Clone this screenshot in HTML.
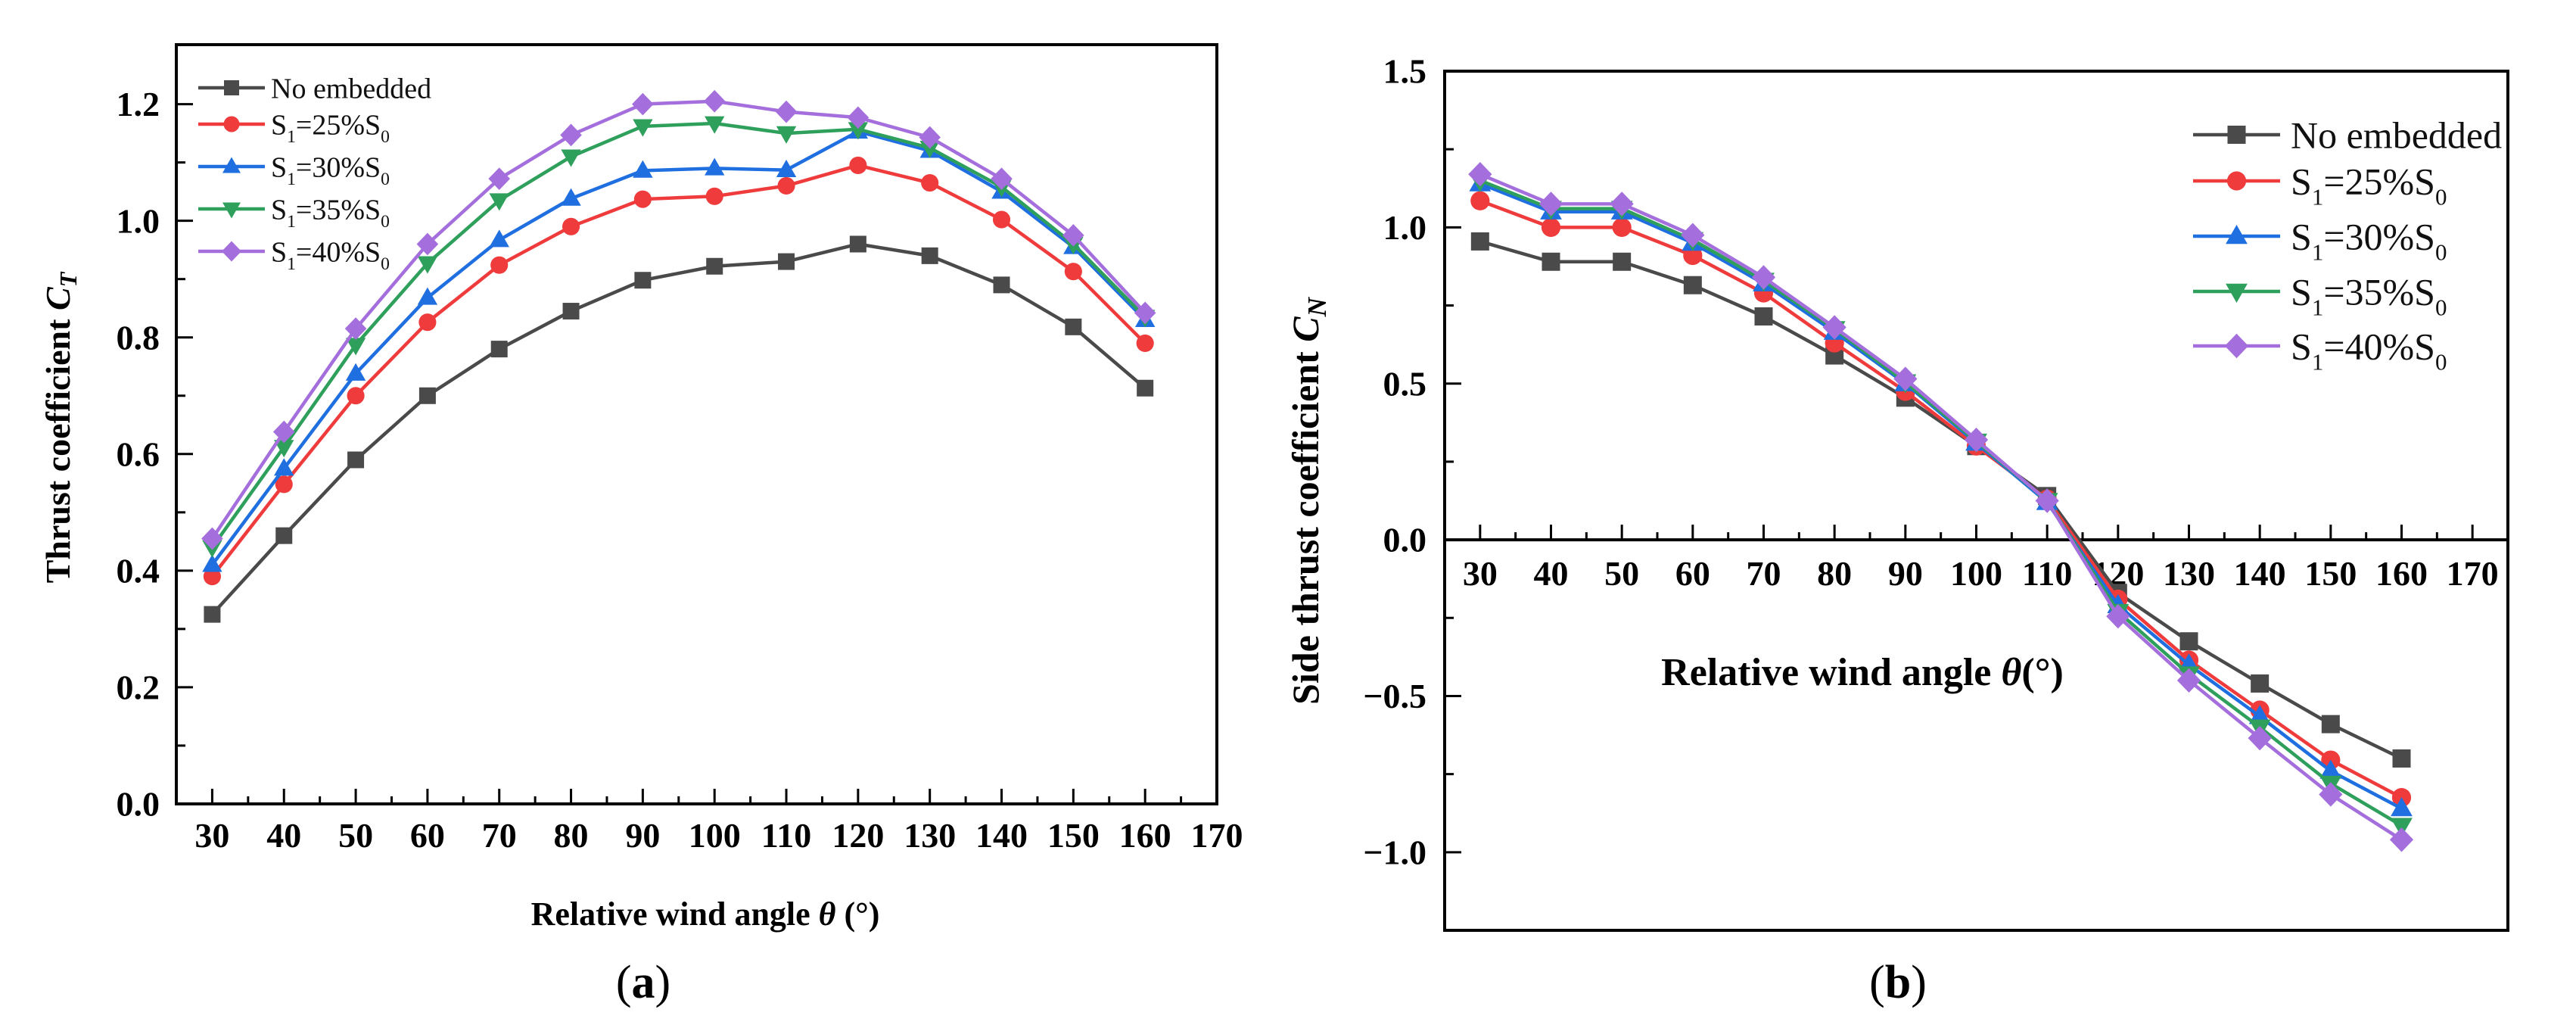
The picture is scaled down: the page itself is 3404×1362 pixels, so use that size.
<!DOCTYPE html>
<html><head><meta charset="utf-8"><style>
html,body{margin:0;padding:0;background:#fff;}
svg{display:block;}
text{font-family:"Liberation Serif","Times New Roman",serif;}
</style></head><body>
<svg id="fig" width="3404" height="1362" viewBox="0 0 3404 1362" xmlns="http://www.w3.org/2000/svg" font-family="Liberation Serif, serif">
<rect x="0" y="0" width="3404" height="1362" fill="#fff"/>
<g id="chartA"></g>
<g id="chartB"></g>
</svg>
<script>
const angles = [30,40,50,60,70,80,90,100,110,120,130,140,150,160];
const seriesNames = ["No embedded","S1=25%S0","S1=30%S0","S1=35%S0","S1=40%S0"];
const ctNone = [0.325,0.46,0.59,0.70,0.78,0.845,0.898,0.922,0.93,0.96,0.94,0.89,0.818,0.713];
const ct25 = [0.39,0.548,0.70,0.826,0.924,0.99,1.037,1.042,1.06,1.095,1.065,1.002,0.913,0.79];
const ct30 = [0.41,0.575,0.738,0.868,0.967,1.038,1.086,1.09,1.087,1.153,1.12,1.05,0.955,0.83];
const ct35 = [0.44,0.612,0.787,0.927,1.035,1.11,1.162,1.167,1.15,1.157,1.125,1.058,0.96,0.835];
const ct40 = [0.455,0.638,0.815,0.96,1.072,1.147,1.2,1.205,1.187,1.177,1.143,1.072,0.975,0.842];
const cnNone = [0.955,0.89,0.89,0.815,0.715,0.59,0.455,0.30,0.14,-0.17,-0.325,-0.46,-0.59,-0.70];
const cn25 = [1.085,1.0,1.0,0.91,0.79,0.63,0.475,0.30,0.13,-0.19,-0.385,-0.545,-0.705,-0.825];
const cn30 = [1.14,1.05,1.05,0.95,0.82,0.665,0.50,0.31,0.12,-0.21,-0.40,-0.565,-0.74,-0.86];
const cn35 = [1.15,1.06,1.06,0.96,0.83,0.675,0.505,0.315,0.125,-0.23,-0.43,-0.60,-0.78,-0.915];
const cn40 = [1.17,1.075,1.075,0.975,0.84,0.68,0.515,0.32,0.125,-0.245,-0.45,-0.635,-0.815,-0.96];
const xTicks = [30,40,50,60,70,80,90,100,110,120,130,140,150,160,170];
const ctTicks = [0.0,0.2,0.4,0.6,0.8,1.0,1.2];
const cnTicks = [-1.0,-0.5,0.0,0.5,1.0,1.5];

const NS="http://www.w3.org/2000/svg";
const colors=["#4a4a4a","#ef3b3b","#1f6fe0","#2f9f5c","#a46fdc"];
const markers=["square","circle","triangle","triangle-down","diamond"];

function mk(parent,tag,attrs,txt){
  const e=document.createElementNS(NS,tag);
  for(const k in attrs) e.setAttribute(k,attrs[k]);
  if(txt!==undefined) e.textContent=txt;
  parent.appendChild(e);
  return e;
}
function marker(g,type,x,y,c,s){
  let e;
  if(type==="square") e=mk(g,"rect",{x:x-s,y:y-s,width:2*s,height:2*s,fill:c});
  else if(type==="circle") e=mk(g,"circle",{cx:x,cy:y,r:s*1.05,fill:c});
  else if(type==="triangle") e=mk(g,"polygon",{points:`${x},${y-s*1.25} ${x-s*1.2},${y+s*0.85} ${x+s*1.2},${y+s*0.85}`,fill:c});
  else if(type==="triangle-down") e=mk(g,"polygon",{points:`${x},${y+s*1.25} ${x-s*1.2},${y-s*0.85} ${x+s*1.2},${y-s*0.85}`,fill:c});
  else e=mk(g,"polygon",{points:`${x},${y-s*1.35} ${x+s*1.3},${y} ${x},${y+s*1.35} ${x-s*1.3},${y}`,fill:c});
  return e;
}
function legendLabel(g,x,y,name,fs){
  const t=mk(g,"text",{x:x,y:y+fs*0.35,"font-size":fs,fill:"#111","font-family":"Liberation Serif, serif"});
  if(name.startsWith("S1")){
    const pct=name.slice(3,6);
    mk(t,"tspan",{},"S");
    mk(t,"tspan",{dy:fs*0.28,"font-size":fs*0.62},"1");
    mk(t,"tspan",{dy:-fs*0.28},"="+pct+"S");
    mk(t,"tspan",{dy:fs*0.28,"font-size":fs*0.62},"0");
  } else t.textContent=name;
  return t;
}

function drawChart(cfg){
  const g=document.getElementById(cfg.id);
  const X=v=>cfg.x0+(v-cfg.xmin)/(cfg.xmax-cfg.xmin)*(cfg.x1-cfg.x0);
  const Y=v=>cfg.y1-(v-cfg.ymin)/(cfg.ymax-cfg.ymin)*(cfg.y1-cfg.y0);
  const frame=mk(g,"rect",{x:cfg.x0,y:cfg.y0,width:cfg.x1-cfg.x0,height:cfg.y1-cfg.y0,fill:"none",stroke:"#000","stroke-width":4});
  
  
  const axY=Y(cfg.xAxisAt);
  if(cfg.xAxisAt!==cfg.ymin){
    const ax=mk(g,"line",{x1:cfg.x0,y1:axY,x2:cfg.x1,y2:axY,stroke:"#000","stroke-width":4});
    
    
  }
  for(let v=cfg.xmin+5;v<=cfg.xmax;v+=5){
    const major=v%10===0;
    mk(g,"line",{x1:X(v),y1:axY,x2:X(v),y2:axY-(major?20:10),stroke:"#000","stroke-width":3});
  }
  xTicks.forEach(v=>{
    const t=mk(g,"text",{x:X(v),y:cfg.xLabelY,"font-size":cfg.tickFs,"font-weight":"bold","text-anchor":"middle",fill:"#000","font-family":"Liberation Serif, serif"},String(v));
    
    
  });
  for(let v=cfg.ymin;v<=cfg.ymax+1e-9;v+=cfg.yMinor){
    const r=Math.round(v/cfg.yMajor*1000)/1000;
    const major=Math.abs(r-Math.round(r))<1e-6;
    if(Y(v)<cfg.y0+2||Y(v)>cfg.y1-2) continue;
    mk(g,"line",{x1:cfg.x0,y1:Y(v),x2:cfg.x0+(major?22:12),y2:Y(v),stroke:"#000","stroke-width":3});
  }
  cfg.yTicks.forEach(v=>{
    const lbl=(v<0?"\u2212":"")+Math.abs(v).toFixed(1);
    const t=mk(g,"text",{x:cfg.x0-cfg.yLabelGap,y:Y(v)+cfg.tickFs*0.34,"font-size":cfg.tickFs,"font-weight":"bold","text-anchor":"end",fill:"#000","font-family":"Liberation Serif, serif"},lbl);
    
    
  });
  cfg.series.forEach((arr,i)=>{
    const sg=mk(g,"g",{});
    
    
    const pts=arr.map((v,j)=>X(angles[j])+","+Y(v)).join(" ");
    mk(sg,"polyline",{points:pts,fill:"none",stroke:colors[i],"stroke-width":4.5,"stroke-linejoin":"round"});
    arr.forEach((v,j)=>{
      const m=marker(sg,markers[i],X(angles[j]),Y(v),colors[i],cfg.ms);
      
      
    });
  });
  const lg=mk(g,"g",{});
  
  
  seriesNames.forEach((n,i)=>{
    const y=cfg.legRows[i];
    const eg=mk(lg,"g",{});
    
    
    mk(eg,"line",{x1:cfg.legX0,y1:y,x2:cfg.legX1,y2:y,stroke:colors[i],"stroke-width":4.5});
    marker(eg,markers[i],(cfg.legX0+cfg.legX1)/2,y,colors[i],cfg.legMs);
    legendLabel(eg,cfg.legText,y,n,cfg.legFs);
  });
  const xt=mk(g,"text",{x:cfg.xTitle[0],y:cfg.xTitle[1],"font-size":cfg.xTitleFs,"font-weight":"bold","text-anchor":"middle",fill:"#000","font-family":"Liberation Serif, serif"});
  
  
  mk(xt,"tspan",{},"Relative wind angle ");
  mk(xt,"tspan",{"font-style":"italic"},"\u03b8");
  mk(xt,"tspan",{},cfg.xTitleTail);
  const yt=mk(g,"text",{x:0,y:0,"font-size":cfg.yTitleFs,"font-weight":"bold","text-anchor":"middle",fill:"#000","font-family":"Liberation Serif, serif",transform:`translate(${cfg.yTitle[0]},${cfg.yTitle[1]}) rotate(-90)`});
  
  
  mk(yt,"tspan",{},cfg.yTitleText+" ");
  mk(yt,"tspan",{"font-style":"italic"},"C");
  mk(yt,"tspan",{"font-style":"italic",dy:cfg.yTitleFs*0.2,"font-size":cfg.yTitleFs*0.7},cfg.yTitleSub);
  const cap=mk(g,"text",{x:cfg.cap[0],y:cfg.cap[1],"font-size":62,"text-anchor":"middle",fill:"#000","font-family":"Liberation Serif, serif"});
  
  
  mk(cap,"tspan",{},"(");
  mk(cap,"tspan",{"font-weight":"bold"},cfg.capLetter);
  mk(cap,"tspan",{},")");
}

drawChart({id:"chartA",x0:233,x1:1608,y0:59,y1:1062,xmin:25,xmax:170,ymin:0,ymax:1.302,xAxisAt:0,
  yMajor:0.2,yMinor:0.1,yTicks:ctTicks,tickFs:46,xLabelY:1119,yLabelGap:22,
  series:[ctNone,ct25,ct30,ct35,ct40],ms:11,
  legRows:[116,164,220,276,332],legX0:262,legX1:350,legText:358,legFs:38,legMs:10,
  xTitle:[932,1222],xTitleFs:44,xTitleTail:"  (\u00b0)",
  yTitle:[92,565],yTitleFs:46,yTitleText:"Thrust coefficient",yTitleSub:"T",
  cap:[850,1318],capLetter:"a"});
drawChart({id:"chartB",x0:1909,x1:3314,y0:94,y1:1229,xmin:25,xmax:175,ymin:-1.25,ymax:1.5,xAxisAt:0,
  yMajor:0.5,yMinor:0.25,yTicks:cnTicks,tickFs:46,xLabelY:773,yLabelGap:24,
  series:[cnNone,cn25,cn30,cn35,cn40],ms:12,
  legRows:[178,239,312,385,457],legX0:2898,legX1:3013,legText:3027,legFs:50,legMs:12,
  xTitle:[2461,905],xTitleFs:52,xTitleTail:"(\u00b0)",
  yTitle:[1742,662],yTitleFs:50,yTitleText:"Side thrust coefficient",yTitleSub:"N",
  cap:[2508,1318],capLetter:"b"});
</script>
</body></html>
